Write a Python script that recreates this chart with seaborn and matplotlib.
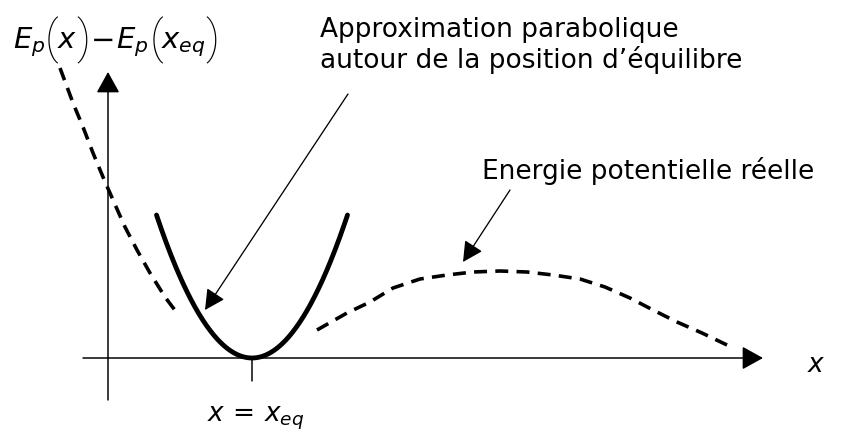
import numpy as np
import matplotlib
matplotlib.use("Agg")
import matplotlib.pyplot as plt
import seaborn as sns

# Potential energy curve, drawn in two branches on either side of the well
left_x = [-48, -35, -25, -15, -5, 5, 17, 29, 42, 57, 69]
left_y = [290, 255, 231, 205, 181, 158, 131, 108, 85, 61, 45]
right_x = [209, 239, 262, 285, 312, 339, 365, 392, 419, 445, 472, 497, 522, 545, 569, 594, 619]
right_y = [28, 45, 56, 70, 79, 83, 86, 87, 86, 83, 79, 71, 60, 48, 36, 25, 13]

# Harmonic approximation around the equilibrium position
x_eq = 144
half_width = 95.5
rim_height = 143

# Text
note_parab = ["Approximation parabolique", "autour de la position d\u2019équilibre"]
note_real = "Energie potentielle réelle"
label_x = r"$x$"
label_eq = r"$x\,=\,x_{eq}$"
# vertical-axis label, set piece by piece so the brackets can be tall
energy_pieces = [
    (r"$E_p$", 13, "math"),
    ("(", 51, "paren"),
    (r"$x$", 57, "math"),
    (")", 83, "paren"),
    (r"$-$", 90, "math"),
    (r"$E_p$", 116, "math"),
    ("(", 156, "paren"),
    (r"$x_{eq}$", 161, "math"),
    (")", 212, "paren"),
]

sns.set_theme(style="white")
plt.rcParams["font.family"] = ["DejaVu Sans"]
plt.rcParams["text.color"] = "black"

W, H = 842, 434
X0, Y0 = 108, 358  # where the two coordinate axes cross, in pixels
fig = plt.figure(figsize=(W / 100, H / 100), dpi=100)
ax = fig.add_axes([0, 0, 1, 1])
ax.set_xlim(-X0, W - X0)
ax.set_ylim(Y0 - H, Y0)
ax.axis("off")

px = 0.72  # points per pixel at 100 dpi

# coordinate axes with arrow heads
axis_style = dict(arrowstyle="-|>,head_length=0.65,head_width=0.36", color="black",
                  lw=1.5 * px, shrinkA=0, shrinkB=0, mutation_scale=20)
ax.annotate("", xy=(655, 0), xytext=(-25, 0), arrowprops=axis_style)
ax.annotate("", xy=(0, 286), xytext=(0, -42), arrowprops=axis_style)
ax.plot([x_eq, x_eq], [0, -23], color="black", lw=1.5 * px)

# real potential (dashed)
dash_kw = dict(color="black", lw=3.6 * px, linestyle=(0, (3.6, 2.3)), legend=False)
sns.lineplot(x=left_x, y=left_y, ax=ax, sort=False, estimator=None, **dash_kw)
sns.lineplot(x=right_x, y=right_y, ax=ax, sort=False, estimator=None, **dash_kw)

# parabola
xp = np.linspace(x_eq - half_width, x_eq + half_width, 200)
yp = rim_height * ((xp - x_eq) / half_width) ** 2
sns.lineplot(x=xp, y=yp, ax=ax, sort=False, estimator=None, color="black",
             lw=4.8 * px, legend=False)

# annotations
note_arrow = dict(arrowstyle="-|>,head_length=0.62,head_width=0.32", color="black",
                  lw=1.3 * px, shrinkA=0, shrinkB=0, mutation_scale=20)
ax.annotate("", xy=(97, 48), xytext=(240, 264), arrowprops=note_arrow)
ax.annotate("", xy=(355, 96), xytext=(402, 168), arrowprops=note_arrow)

ax.text(212, 321, note_parab[0], fontsize=19, ha="left", va="baseline")
ax.text(212, 290, note_parab[1], fontsize=19, ha="left", va="baseline")
ax.text(374, 179, note_real, fontsize=19, ha="left", va="baseline")

for txt, xpix, kind in energy_pieces:
    if kind == "paren":
        ax.text(xpix - X0, Y0 - 40, txt, fontsize=33, ha="center", va="center",
                family=["Roboto", "DejaVu Sans"], fontweight="light")
    else:
        ax.text(xpix - X0, Y0 - 48, txt, fontsize=21, ha="left", va="baseline")

ax.text(699, -14, label_x, fontsize=19, ha="left", va="baseline")
ax.text(99, -64, label_eq, fontsize=19, ha="left", va="baseline")

fig.savefig("out.png", dpi=100, facecolor="white")
